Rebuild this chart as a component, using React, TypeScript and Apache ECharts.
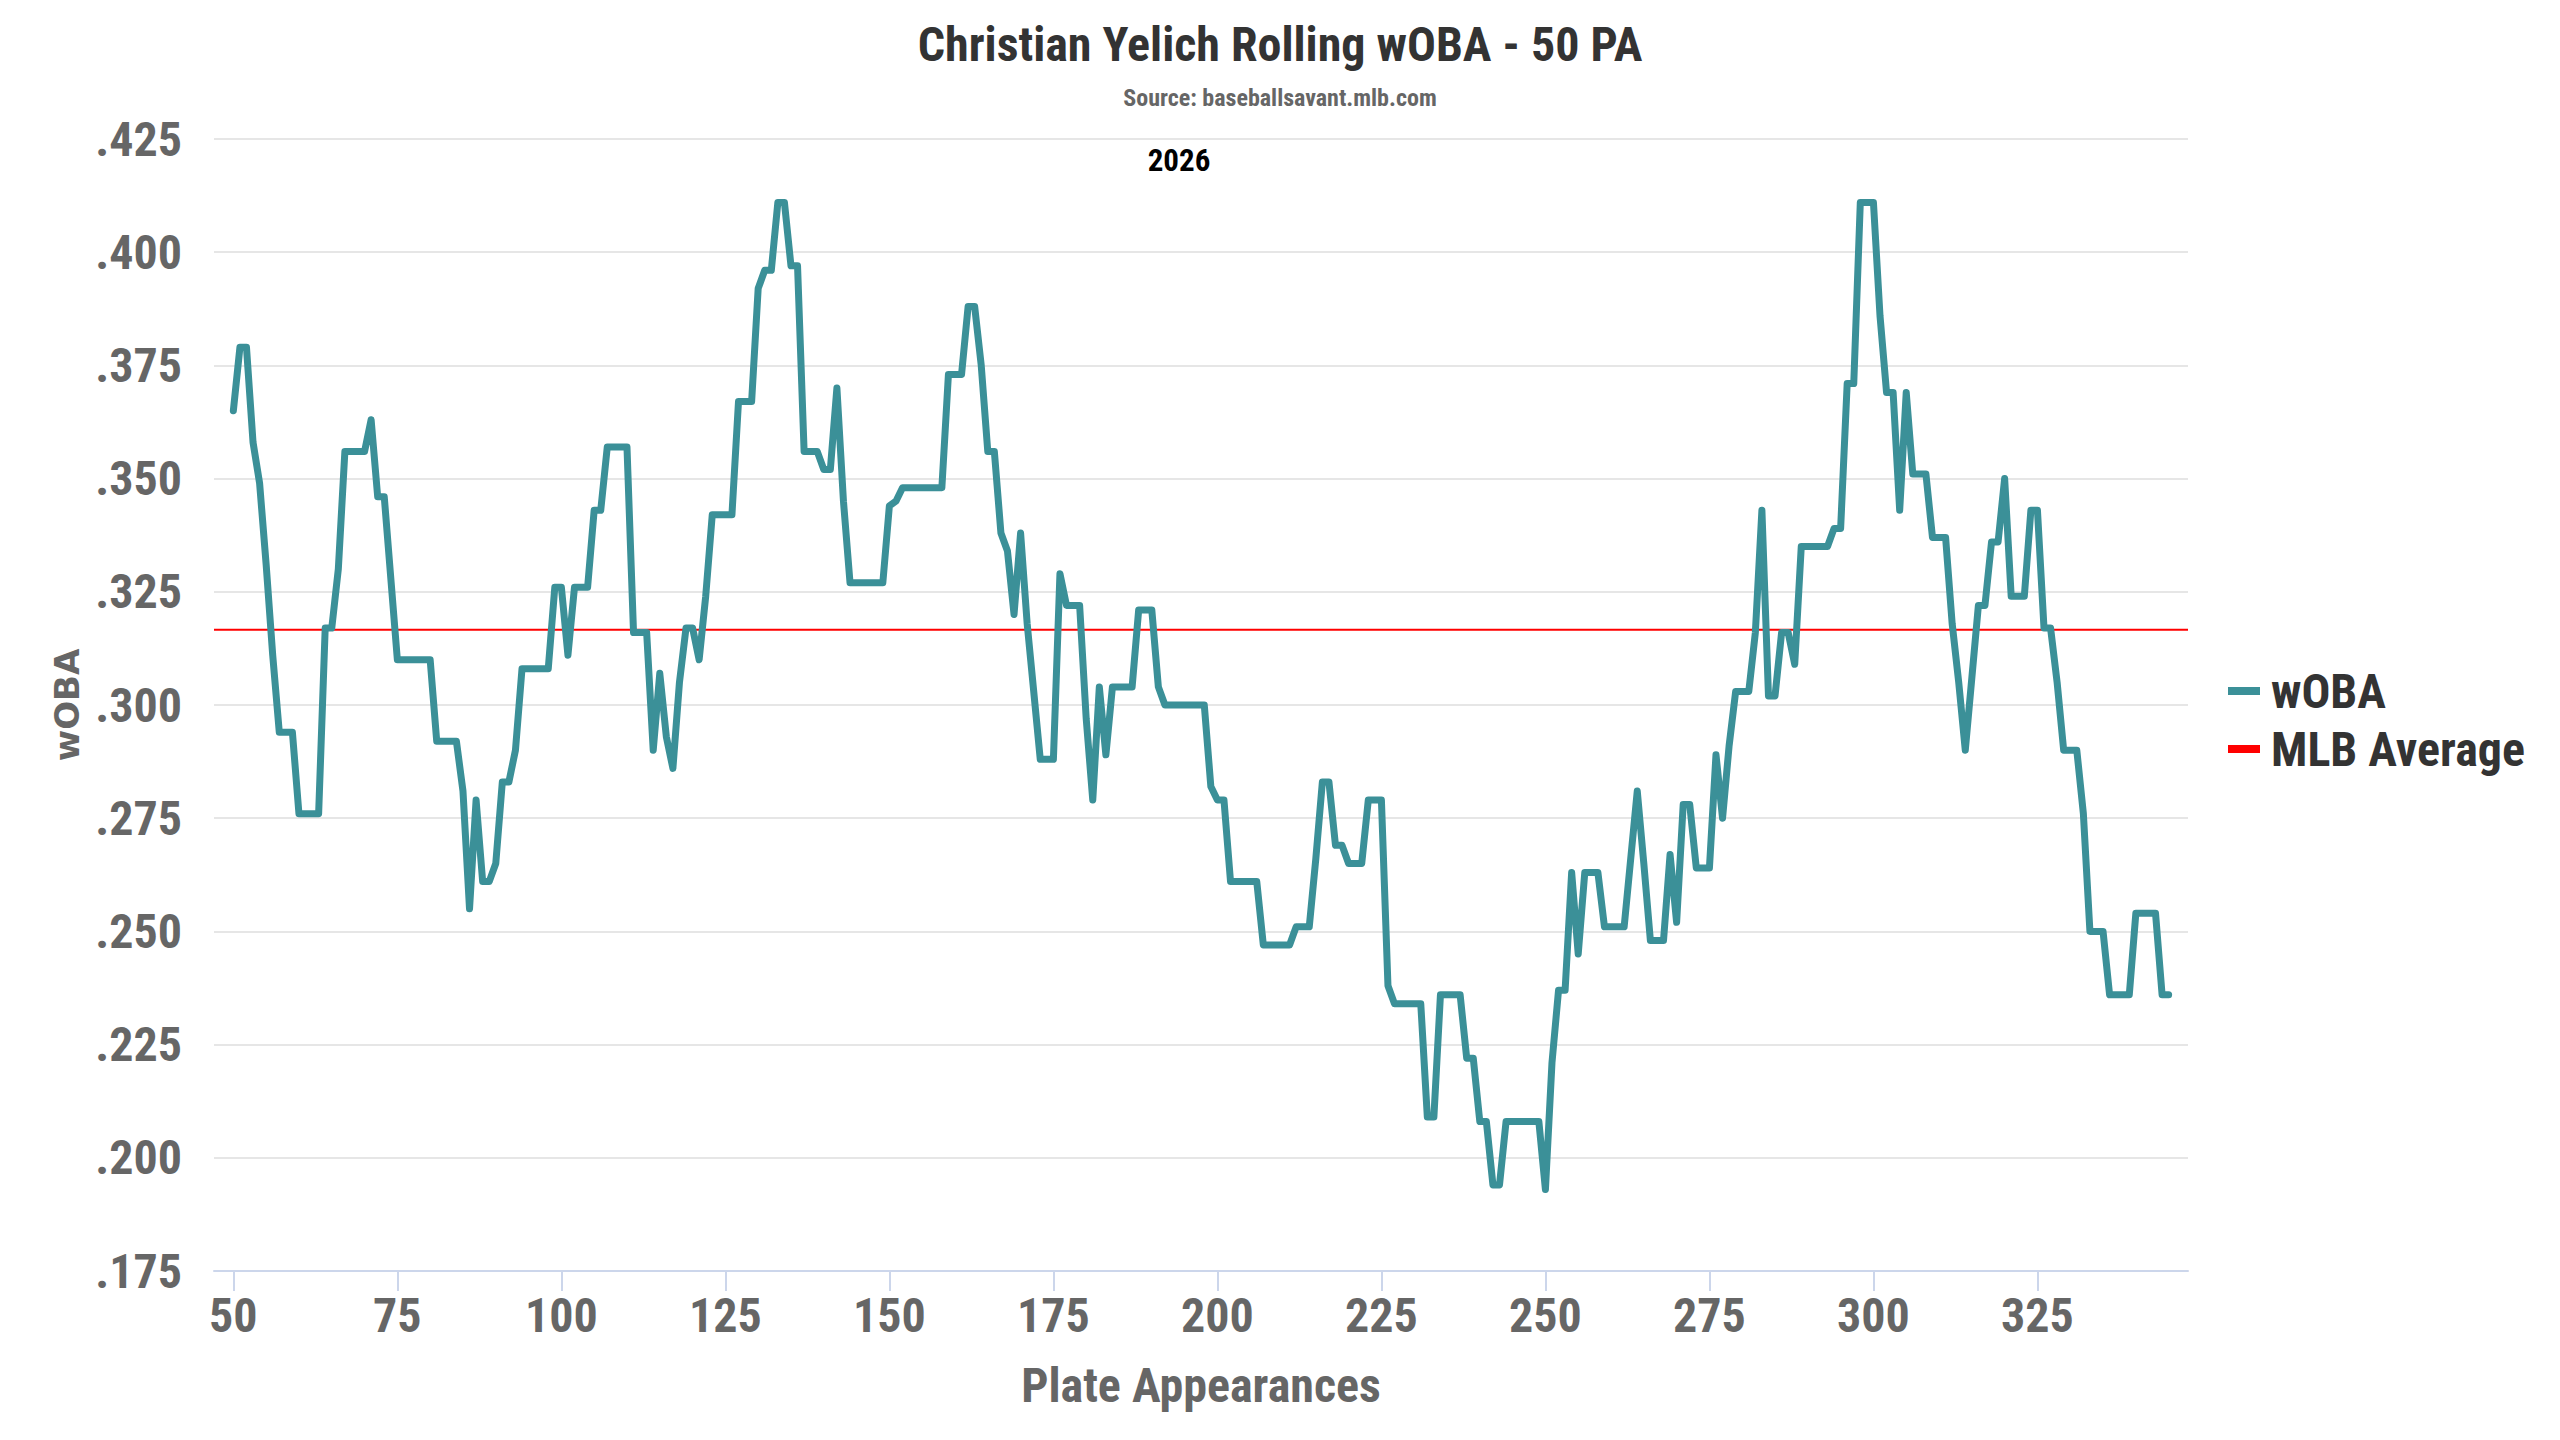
import React, { useEffect, useRef } from "react";
import * as echarts from "echarts";

const TITLE = "Christian Yelich Rolling wOBA - 50 PA";
const SUBTITLE = "Source: baseballsavant.mlb.com";
const SEASON_LABEL = "2026";
const X_NAME = "Plate Appearances";
const Y_NAME = "wOBA";
const SERIES_NAME = "wOBA";
const AVG_NAME = "MLB Average";

// first plate appearance of the rolling window
const FIRST_PA = 50;
// rolling 50-PA wOBA, one value per plate appearance (PA 50 .. 345)
const WOBA = [
  0.365, 0.379, 0.379, 0.358, 0.349, 0.331, 0.311, 0.294, 0.294, 0.294,
  0.276, 0.276, 0.276, 0.276, 0.317, 0.317, 0.330, 0.356, 0.356, 0.356,
  0.356, 0.363, 0.346, 0.346, 0.328, 0.310, 0.310, 0.310, 0.310, 0.310,
  0.310, 0.292, 0.292, 0.292, 0.292, 0.281, 0.255, 0.279, 0.261, 0.261,
  0.265, 0.283, 0.283, 0.290, 0.308, 0.308, 0.308, 0.308, 0.308, 0.326,
  0.326, 0.311, 0.326, 0.326, 0.326, 0.343, 0.343, 0.357, 0.357, 0.357,
  0.357, 0.316, 0.316, 0.316, 0.290, 0.307, 0.293, 0.286, 0.305, 0.317,
  0.317, 0.310, 0.324, 0.342, 0.342, 0.342, 0.342, 0.367, 0.367, 0.367,
  0.392, 0.396, 0.396, 0.411, 0.411, 0.397, 0.397, 0.356, 0.356, 0.356,
  0.352, 0.352, 0.370, 0.345, 0.327, 0.327, 0.327, 0.327, 0.327, 0.327,
  0.344, 0.345, 0.348, 0.348, 0.348, 0.348, 0.348, 0.348, 0.348, 0.373,
  0.373, 0.373, 0.388, 0.388, 0.375, 0.356, 0.356, 0.338, 0.334, 0.320,
  0.338, 0.318, 0.303, 0.288, 0.288, 0.288, 0.329, 0.322, 0.322, 0.322,
  0.297, 0.279, 0.304, 0.289, 0.304, 0.304, 0.304, 0.304, 0.321, 0.321,
  0.321, 0.304, 0.300, 0.300, 0.300, 0.300, 0.300, 0.300, 0.300, 0.282,
  0.279, 0.279, 0.261, 0.261, 0.261, 0.261, 0.261, 0.247, 0.247, 0.247,
  0.247, 0.247, 0.251, 0.251, 0.251, 0.266, 0.283, 0.283, 0.269, 0.269,
  0.265, 0.265, 0.265, 0.279, 0.279, 0.279, 0.238, 0.234, 0.234, 0.234,
  0.234, 0.234, 0.209, 0.209, 0.236, 0.236, 0.236, 0.236, 0.222, 0.222,
  0.208, 0.208, 0.194, 0.194, 0.208, 0.208, 0.208, 0.208, 0.208, 0.208,
  0.193, 0.221, 0.237, 0.237, 0.263, 0.245, 0.263, 0.263, 0.263, 0.251,
  0.251, 0.251, 0.251, 0.266, 0.281, 0.265, 0.248, 0.248, 0.248, 0.267,
  0.252, 0.278, 0.278, 0.264, 0.264, 0.264, 0.289, 0.275, 0.291, 0.303,
  0.303, 0.303, 0.316, 0.343, 0.302, 0.302, 0.316, 0.316, 0.309, 0.335,
  0.335, 0.335, 0.335, 0.335, 0.339, 0.339, 0.371, 0.371, 0.411, 0.411,
  0.411, 0.386, 0.369, 0.369, 0.343, 0.369, 0.351, 0.351, 0.351, 0.337,
  0.337, 0.337, 0.318, 0.305, 0.290, 0.306, 0.322, 0.322, 0.336, 0.336,
  0.350, 0.324, 0.324, 0.324, 0.343, 0.343, 0.317, 0.317, 0.305, 0.290,
  0.290, 0.290, 0.276, 0.250, 0.250, 0.250, 0.236, 0.236, 0.236, 0.236,
  0.254, 0.254, 0.254, 0.254, 0.236, 0.236,
];
const MLB_AVERAGE = 0.3166;

const X_TICKS = [50, 75, 100, 125, 150, 175, 200, 225, 250, 275, 300, 325];
const X_MIN = 47.05;
const X_MAX = 347.95;
const Y_MIN = 0.175;
const Y_MAX = 0.425;
const Y_STEP = 0.025;

const FONT =
  "'Roboto Condensed', 'Liberation Sans Narrow', 'DejaVu Sans Condensed', Roboto, sans-serif";
const TEAL = "#3b9098";
const RED = "#ff0000";

function buildOption() {
  const wobaData = WOBA.map((v, i) => [FIRST_PA + i, v]);
  const avgData = [
    [X_MIN, MLB_AVERAGE],
    [X_MAX, MLB_AVERAGE],
  ];
  return {
    animation: false,
    backgroundColor: "#ffffff",
    title: [
      {
        text: TITLE,
        left: "center",
        top: 20,
        padding: 0,
        textStyle: {
          fontFamily: FONT,
          fontSize: 48,
          fontWeight: "bold",
          color: "#333333",
          lineHeight: 48,
        },
      },
      {
        text: SUBTITLE,
        left: "center",
        top: 86,
        padding: 0,
        textStyle: {
          fontFamily: FONT,
          fontSize: 24,
          fontWeight: "bold",
          color: "#666666",
          lineHeight: 24,
        },
      },
    ],
    graphic: [
      {
        type: "text",
        x: 1179,
        y: 160,
        style: {
          text: SEASON_LABEL,
          fill: "#000000",
          fontFamily: FONT,
          fontSize: 31,
          fontWeight: "bold",
          align: "center",
          verticalAlign: "middle",
        },
      },
    ],
    legend: {
      orient: "vertical",
      left: 2228,
      top: "middle",
      icon: "rect",
      itemWidth: 32,
      itemHeight: 8,
      itemGap: 10,
      padding: 0,
      textStyle: {
        fontFamily: FONT,
        fontSize: 48,
        fontWeight: "bold",
        color: "#333333",
        lineHeight: 48,
        padding: [0, 0, 0, 6],
      },
      data: [SERIES_NAME, AVG_NAME],
    },
    grid: { left: 214, right: 372, top: 139, bottom: 169 },
    xAxis: {
      type: "value",
      min: X_MIN,
      max: X_MAX,
      name: X_NAME,
      nameLocation: "middle",
      nameGap: 90,
      nameTextStyle: {
        fontFamily: FONT,
        fontSize: 48,
        fontWeight: "bold",
        color: "#666666",
      },
      axisLine: { show: true, lineStyle: { color: "#ccd6eb", width: 2 } },
      axisTick: {
        show: true,
        customValues: X_TICKS,
        length: 20,
        lineStyle: { color: "#ccd6eb", width: 2 },
      },
      axisLabel: {
        customValues: X_TICKS,
        fontFamily: FONT,
        fontSize: 48,
        fontWeight: "bold",
        color: "#666666",
        margin: 20,
      },
      splitLine: { show: false },
    },
    yAxis: {
      type: "value",
      min: Y_MIN,
      max: Y_MAX,
      interval: Y_STEP,
      name: Y_NAME,
      nameLocation: "middle",
      nameGap: 130,
      nameRotate: 90,
      nameTextStyle: {
        fontFamily: "'DejaVu Sans', Verdana, sans-serif",
        fontSize: 34,
        fontWeight: "bold",
        color: "#666666",
      },
      axisLine: { show: false },
      axisTick: { show: false },
      axisLabel: {
        formatter: (v: number) => v.toFixed(3).replace(/^0/, ""),
        fontFamily: FONT,
        fontSize: 48,
        fontWeight: "bold",
        color: "#666666",
        margin: 32,
      },
      splitLine: { show: true, lineStyle: { color: "#e6e6e6", width: 2 } },
    },
    series: [
      {
        name: SERIES_NAME,
        type: "line",
        data: wobaData,
        symbol: "none",
        showSymbol: false,
        z: 3,
        itemStyle: { color: TEAL },
        lineStyle: { color: TEAL, width: 7, join: "round", cap: "round" },
      },
      {
        name: AVG_NAME,
        type: "line",
        data: avgData,
        symbol: "none",
        showSymbol: false,
        z: 2,
        itemStyle: { color: RED },
        lineStyle: { color: RED, width: 2 },
      },
    ],
  };
}

export default function App() {
  const ref = useRef<HTMLDivElement>(null);
  useEffect(() => {
    if (!ref.current) return;
    const chart = echarts.init(ref.current, null, { renderer: "svg" });
    chart.setOption(buildOption() as any);
    return () => chart.dispose();
  }, []);
  return (
    <div
      ref={ref}
      style={{
        position: "absolute",
        left: 0,
        top: 0,
        width: 2560,
        height: 1440,
        background: "#ffffff",
      }}
    />
  );
}
